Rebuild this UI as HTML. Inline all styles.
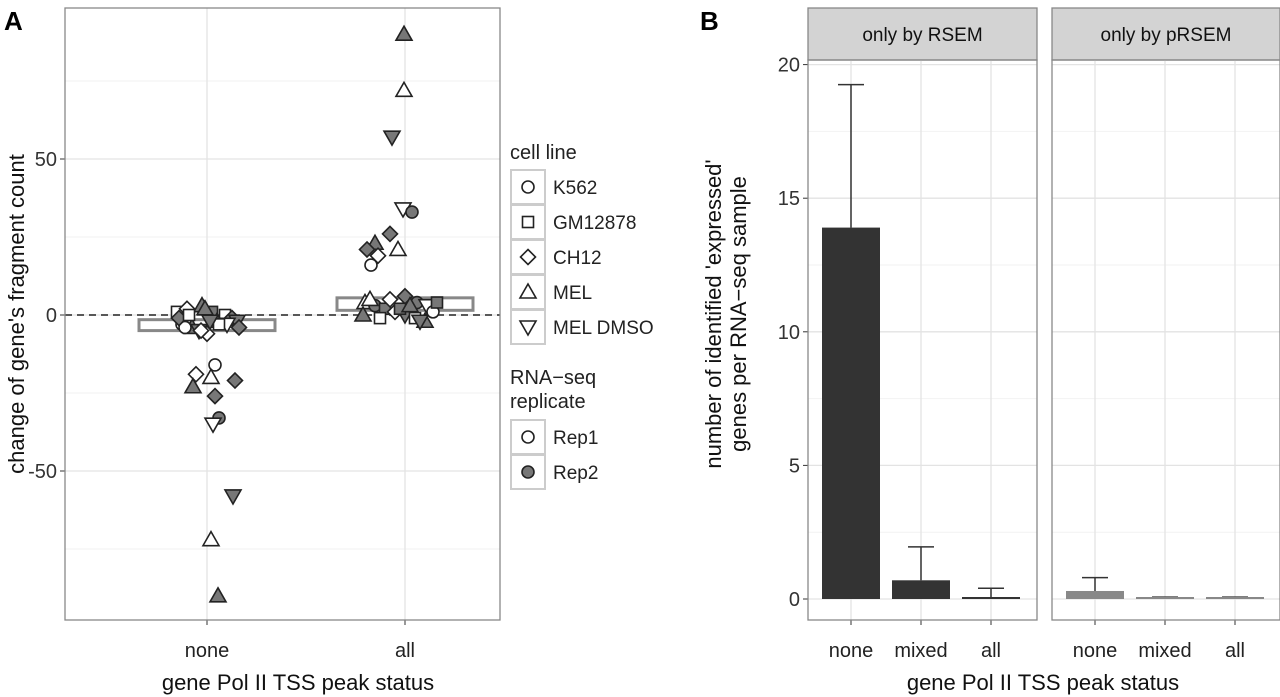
<!DOCTYPE html>
<html><head><meta charset="utf-8"><style>
html,body{margin:0;padding:0;background:#fff;}
svg{display:block;font-family:"Liberation Sans",Arial,sans-serif;}
</style></head><body>
<svg id="s" width="1280" height="697" viewBox="0 0 1280 697">
<text x="4" y="30" font-size="26" font-weight="bold">A</text>
<text x="700" y="30" font-size="26" font-weight="bold">B</text>
<g id="pa"></g>
<g id="pb"></g>
<g id="leg"></g>
</svg>
<script>
// Panel A data
const ptsNoneY=[-16,-19,-20,-21,-23,-26,-33,-35,-58,-72,-90,1,2,3,1,0,-1,-2,-3,-4,-5,-6,-2,-3,-4,-1,-3,-5,-2,0,2,-4];
const ptsNoneJ=[8,-11,4,28,-14,8,12,6,26,4,11,-30,-20,-5,5,18,25,30,-25,-15,-8,0,10,20,-22,-28,12,-6,3,-18,-2,32];
const ptsNoneShape=["c","d","t","d","t","d","c","v","v","t","t","s","d","t","s","s","d","v","c","t","v","d","t","v","c","d","s","d","v","s","t","d"];
const ptsNoneFill=[0,0,0,1,1,1,1,0,1,0,1,0,0,1,1,0,1,1,0,1,1,0,1,0,0,1,0,0,1,0,1,1];
const ptsAllY=[90,72,57,34,33,26,23,21,19,21,16,4,3,2,1,0,-1,-2,5,6,4,3,2,-1,-2,3,5,1,0,4];
const ptsAllJ=[-1,-1,-13,-2,7,-15,-30,-38,-27,-7,-34,-40,-30,-20,-10,0,10,20,-35,0,12,22,-5,-25,15,5,-15,28,-42,32];
const ptsAllShape=["t","t","v","v","c","d","t","d","d","t","c","t","c","s","d","v","s","t","t","d","c","v","s","s","v","t","d","c","t","s"];
const ptsAllFill=[1,0,1,0,1,1,1,1,0,0,0,0,1,1,0,1,0,1,0,1,1,0,1,0,1,1,0,0,1,1];
const boxLo=[-5,1.5], boxHi=[-1.5,5.5];
const aTicks=[-50,0,50];
// Panel B data
const bCats=["none","mixed","all"];
const rsemVals=[13.9,0.7,0.07];
const rsemErr=[19.25,1.95,0.4];
const prsemVals=[0.3,0.07,0.07];
const prsemErr=[0.8,0.07,0.07];
const bTicks=[0,5,10,15,20];

const NS="http://www.w3.org/2000/svg";
function el(p,t,a){const e=document.createElementNS(NS,t);for(const k in a)e.setAttribute(k,a[k]);p.appendChild(e);return e;}
const pa=document.getElementById('pa'),pb=document.getElementById('pb'),leg=document.getElementById('leg');
// Panel A
const ax={l:65,r:500,t:8,b:620};
const ay=v=>315-v*3.12;
const axX=[207,405];
let r=el(pa,'rect',{x:ax.l,y:ax.t,width:ax.r-ax.l,height:ax.b-ax.t,fill:'#fff'});

[-75,-25,25,75].forEach(v=>{let l=el(pa,'line',{x1:ax.l,x2:ax.r,y1:ay(v),y2:ay(v),stroke:'#f2f2f2','stroke-width':1});});
aTicks.forEach(v=>{let l=el(pa,'line',{x1:ax.l,x2:ax.r,y1:ay(v),y2:ay(v),stroke:'#e3e3e3','stroke-width':1.3});
 let t=el(pa,'line',{x1:ax.l-5,x2:ax.l,y1:ay(v),y2:ay(v),stroke:'#333'});
 let tx=el(pa,'text',{x:ax.l-8,y:ay(v)+7,'text-anchor':'end','font-size':20,fill:'#333'});tx.textContent=v;});
["none","all"].forEach((c,i)=>{let l=el(pa,'line',{x1:axX[i],x2:axX[i],y1:ax.t,y2:ax.b,stroke:'#e3e3e3','stroke-width':1.3});
 let t=el(pa,'line',{x1:axX[i],x2:axX[i],y1:ax.b,y2:ax.b+5,stroke:'#333'});
 let tx=el(pa,'text',{x:axX[i],y:ax.b+37,'text-anchor':'middle','font-size':20,fill:'#222'});tx.textContent=c;});
let dl=el(pa,'line',{x1:ax.l,x2:ax.r,y1:ay(0),y2:ay(0),stroke:'#222','stroke-width':1.5,'stroke-dasharray':'7,5'});
[0,1].forEach(i=>{let b=el(pa,'rect',{x:axX[i]-68,y:ay(boxHi[i]),width:136,height:ay(boxLo[i])-ay(boxHi[i]),fill:'#fff',stroke:'#888','stroke-width':3});});
function shape(p,cx,cy,s,f){const fill=f?'#777':'#fff',st={fill:fill,stroke:'#222','stroke-width':1.6};let e;
 if(s=='c')e=el(p,'circle',Object.assign({cx:cx,cy:cy,r:6},st));
 else if(s=='s')e=el(p,'rect',Object.assign({x:cx-5.5,y:cy-5.5,width:11,height:11},st));
 else if(s=='d')e=el(p,'polygon',Object.assign({points:`${cx},${cy-7.5} ${cx+7.5},${cy} ${cx},${cy+7.5} ${cx-7.5},${cy}`},st));
 else if(s=='t')e=el(p,'polygon',Object.assign({points:`${cx},${cy-8} ${cx+8},${cy+6} ${cx-8},${cy+6}`},st));
 else e=el(p,'polygon',Object.assign({points:`${cx},${cy+8} ${cx+8},${cy-6} ${cx-8},${cy-6}`},st));
 return e;}
ptsNoneY.forEach((v,i)=>{let e=shape(pa,axX[0]+ptsNoneJ[i],ay(v),ptsNoneShape[i],ptsNoneFill[i]);});
ptsAllY.forEach((v,i)=>{let e=shape(pa,axX[1]+ptsAllJ[i],ay(v),ptsAllShape[i],ptsAllFill[i]);});
let fr=el(pa,'rect',{x:ax.l,y:ax.t,width:ax.r-ax.l,height:ax.b-ax.t,fill:'none',stroke:'#888','stroke-width':1.3});
let yt=el(pa,'text',{x:0,y:0,transform:'translate(24,314) rotate(-90)','text-anchor':'middle','font-size':22,fill:'#111'});yt.textContent="change of gene's fragment count";
let xt=el(pa,'text',{x:298,y:690,'text-anchor':'middle','font-size':22,fill:'#111'});xt.textContent="gene Pol II TSS peak status";
// legend
function ltext(x,y,t,n,sz){let e=el(leg,'text',{x:x,y:y,'font-size':sz||19,fill:'#222'});e.textContent=t;}
ltext(510,159,'cell line','legend-title-cell-line',20);
[['c','K562'],['s','GM12878'],['d','CH12'],['t','MEL'],['v','MEL DMSO']].forEach((d,i)=>{const y=187+i*35;
 let b=el(leg,'rect',{x:511,y:y-17,width:34,height:34,fill:'#fff',stroke:'#ccc','stroke-width':2});
 let s=shape(leg,528,y,d[0],0);
 ltext(553,y+7,d[1],'legend-entry');});
ltext(510,384,'RNA−seq','legend-title-rep',20);ltext(510,408,'replicate','legend-title-rep2',20);
[['Rep1',0],['Rep2',1]].forEach((d,i)=>{const y=437+i*35;
 let b=el(leg,'rect',{x:511,y:y-17,width:34,height:34,fill:'#fff',stroke:'#ccc','stroke-width':2});
 let s=shape(leg,528,y,'c',d[1]);
 ltext(553,y+7,d[0],'legend-entry');});
// Panel B
const by=v=>599-v*26.72;
const facets=[{l:808,r:1037,title:'only by RSEM',vals:rsemVals,err:rsemErr,col:'#333'},{l:1052,r:1280,title:'only by pRSEM',vals:prsemVals,err:prsemErr,col:'#888'}];
facets.forEach((f,fi)=>{const w=f.r-f.l;const cx=i=>f.l+43+i*70;
 let st=el(pb,'rect',{x:f.l,y:8,width:w,height:52,fill:'#d3d3d3',stroke:'#888','stroke-width':1.3});
 let stt=el(pb,'text',{x:f.l+w/2,y:41,'text-anchor':'middle','font-size':19,fill:'#111'});stt.textContent=f.title;
 [2.5,7.5,12.5,17.5].forEach(v=>{let l=el(pb,'line',{x1:f.l,x2:f.r,y1:by(v),y2:by(v),stroke:'#f2f2f2'});});
 bTicks.forEach(v=>{let l=el(pb,'line',{x1:f.l,x2:f.r,y1:by(v),y2:by(v),stroke:'#e3e3e3','stroke-width':1.3});
  if(fi==0){let t=el(pb,'line',{x1:f.l-5,x2:f.l,y1:by(v),y2:by(v),stroke:'#333'});
  let tx=el(pb,'text',{x:f.l-8,y:by(v)+7,'text-anchor':'end','font-size':20,fill:'#333'});tx.textContent=v;}});
 bCats.forEach((c,i)=>{let l=el(pb,'line',{x1:cx(i),x2:cx(i),y1:60,y2:620,stroke:'#e3e3e3','stroke-width':1.3});
  let t=el(pb,'line',{x1:cx(i),x2:cx(i),y1:620,y2:625,stroke:'#333'});
  let tx=el(pb,'text',{x:cx(i),y:657,'text-anchor':'middle','font-size':20,fill:'#222'});tx.textContent=c;
  let e=el(pb,'line',{x1:cx(i),x2:cx(i),y1:by(f.err[i]),y2:by(f.vals[i]),stroke:'#333','stroke-width':1.5});
  let cap=el(pb,'line',{x1:cx(i)-13,x2:cx(i)+13,y1:by(f.err[i]),y2:by(f.err[i]),stroke:'#333','stroke-width':1.5});
  const h=Math.max(by(0)-by(f.vals[i]),2);
  let b=el(pb,'rect',{x:cx(i)-29,y:by(0)-h,width:58,height:h,fill:f.col});});
 let fr=el(pb,'rect',{x:f.l,y:60,width:w,height:560,fill:'none',stroke:'#888','stroke-width':1.3});
});
let byt=el(pb,'text',{x:0,y:0,transform:'translate(721,314) rotate(-90)','text-anchor':'middle','font-size':22,fill:'#111'});byt.textContent="number of identified 'expressed'";
let byt2=el(pb,'text',{x:0,y:0,transform:'translate(746,314) rotate(-90)','text-anchor':'middle','font-size':22,fill:'#111'});byt2.textContent="genes per RNA−seq sample";
let bxt=el(pb,'text',{x:1043,y:690,'text-anchor':'middle','font-size':22,fill:'#111'});bxt.textContent="gene Pol II TSS peak status";
</script>
</body></html>
